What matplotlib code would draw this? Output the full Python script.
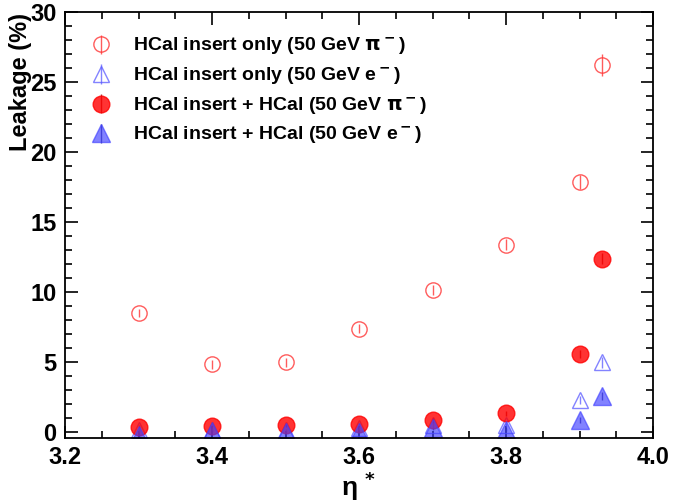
import matplotlib
matplotlib.use("Agg")
import matplotlib.pyplot as plt
from matplotlib.ticker import MultipleLocator

plt.rcParams['font.family'] = ['Liberation Sans', 'DejaVu Sans']
plt.rcParams['font.weight'] = 'bold'

eta = [3.3, 3.4, 3.5, 3.6, 3.7, 3.8, 3.9, 3.93]
insert_pi = [8.5, 4.85, 5.0, 7.4, 10.15, 13.4, 17.9, 26.2]
insert_pi_err = [0.3, 0.3, 0.3, 0.3, 0.35, 0.4, 0.5, 0.8]
insert_e = [0.15, 0.2, 0.15, 0.3, 0.55, 0.55, 2.3, 5.0]
insert_e_err = [0.1, 0.1, 0.1, 0.1, 0.15, 0.15, 0.3, 0.4]
full_pi = [0.4, 0.45, 0.5, 0.6, 0.85, 1.35, 5.6, 12.4]
full_pi_err = [0.1, 0.1, 0.1, 0.1, 0.15, 0.2, 0.3, 0.4]
full_e = [-0.2, 0.1, 0.0, 0.05, 0.3, 0.2, 0.9, 2.6]
full_e_err = [0.1, 0.1, 0.1, 0.1, 0.1, 0.1, 0.2, 0.3]

xticks = [3.2, 3.4, 3.6, 3.8, 4.0]
xticklabels = ['3.2', '3.4', '3.6', '3.8', '4.0']
yticks = [0, 5, 10, 15, 20, 25, 30]
yticklabels = ['0', '5', '10', '15', '20', '25', '30']

labels = ['HCal insert only (50 GeV $\\mathbf{\\pi^-}$)',
          'HCal insert only (50 GeV e$^-$)',
          'HCal insert + HCal (50 GeV $\\mathbf{\\pi^-}$)',
          'HCal insert + HCal (50 GeV e$^-$)']

red = (1.0, 0.0, 0.0, 0.8)
red_open = (1.0, 0.2, 0.2, 0.8)
blue = (0.25, 0.25, 1.0, 0.65)
blue_open = (0.35, 0.35, 1.0, 0.75)

fig = plt.figure(figsize=(6.73, 5.04), dpi=100)
ax = fig.add_axes([65/673, 1 - 438/504, (653-65)/673, (438-12)/504])

ax.errorbar(eta, insert_pi, yerr=insert_pi_err, fmt='o', ms=11, mfc='none',
            mec=red_open, mew=1.0, ecolor=red_open, elinewidth=1.0, capsize=0,
            label=labels[0])
ax.errorbar(eta, insert_e, yerr=insert_e_err, fmt='^', ms=11, mfc='none',
            mec=blue_open, mew=1.0, ecolor=blue_open, elinewidth=1.0, capsize=0,
            label=labels[1])
ax.errorbar(eta, full_pi, yerr=full_pi_err, fmt='o', ms=12, mfc=red, mec=red,
            ecolor=(0.6, 0, 0, 0.8), elinewidth=1.0, capsize=0, label=labels[2])
ax.errorbar(eta, full_e, yerr=full_e_err, fmt='^', ms=12.5, mfc=blue, mec=blue,
            ecolor=(0.1, 0.1, 0.5, 0.8), elinewidth=1.0, capsize=0, label=labels[3])

ax.set_xlim(3.2, 4.0)
ax.set_ylim(-0.4, 30)
ax.set_xticks(xticks)
ax.set_xticklabels(xticklabels, fontweight='bold')
ax.set_yticks(yticks)
ax.set_yticklabels(yticklabels, fontweight='bold')
ax.xaxis.set_minor_locator(MultipleLocator(0.05))
ax.yaxis.set_minor_locator(MultipleLocator(1))
ax.tick_params(which='both', direction='in', top=True, right=True, width=1.2)
ax.tick_params(which='major', length=9, labelsize=17, pad=6)
ax.tick_params(which='minor', length=5)
for s in ax.spines.values():
    s.set_linewidth(1.3)

ax.set_xlabel('η $^{*}$', fontsize=19, fontweight='bold', labelpad=0)
ax.set_ylabel('Leakage (%)', fontsize=17, fontweight='bold')
ax.yaxis.set_label_coords(-0.056, 0.836)

leg = ax.legend(loc='upper left', bbox_to_anchor=(0.013, 0.985), frameon=False,
                handletextpad=1.1, labelspacing=0.43,
                handlelength=1.1, prop={'weight': 'bold', 'size': 14})

fig.savefig('out.png', dpi=100)
